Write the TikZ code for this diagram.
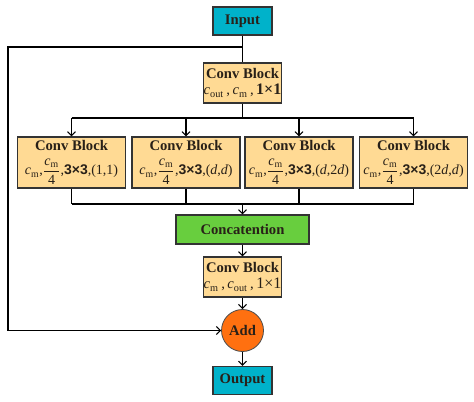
\documentclass[tikz,border=0pt]{standalone}
\usepackage{amsmath}
\usepackage{fontspec}
\setmainfont{Liberation Serif}
\setsansfont{Liberation Sans}
\usetikzlibrary{arrows.meta}
\definecolor{cyanbox}{RGB}{0,178,202}
\definecolor{convfill}{RGB}{255,218,148}
\definecolor{greenbox}{RGB}{104,206,62}
\definecolor{orangec}{RGB}{255,112,16}
\definecolor{txt}{RGB}{40,32,24}
\newcommand{\cmv}{\textit{c}\textsubscript{m}}
\newcommand{\cout}{\textit{c}\textsubscript{out}}
\newcommand{\fr}{$\dfrac{\text{\cmv}}{\text{4}}$}
\newcommand{\kthree}{{\sffamily\bfseries 3\texttimes 3}}
\begin{document}
\begin{tikzpicture}[x=0.75pt,y=-0.75pt,
  every node/.style={text=txt,font=\fontsize{11}{12}\selectfont},
  iobox/.style={draw=black!80,line width=0.8pt,fill=cyanbox,minimum width=44.25pt,minimum height=21pt,inner sep=0pt,font=\fontsize{11}{12}\selectfont\bfseries},
  convbox/.style={draw=black!80,line width=0.8pt,fill=convfill,minimum width=57pt,minimum height=30pt,inner sep=0pt,align=center},
  branchbox/.style={draw=black!80,line width=0.8pt,fill=convfill,minimum width=81pt,minimum height=38.25pt,inner sep=0pt,align=center},
  catbox/.style={draw=black!80,line width=0.8pt,fill=greenbox,minimum width=99.75pt,minimum height=21.75pt,inner sep=0pt,font=\fontsize{11}{12}\selectfont\bfseries},
  addc/.style={circle,draw=black!70,line width=0.6pt,fill=orangec,minimum size=31.5pt,inner sep=0pt,font=\fontsize{11}{12}\selectfont\bfseries},
  conn/.style={draw=black,line width=0.8pt},
  arr/.style={conn,-{Straight Barb[length=3pt,width=6pt]}}
]
\useasboundingbox (0,0) rectangle (474,402);

\node[iobox] (in) at (242.5,21) {Input};
\node[convbox] (c0) at (242.5,83) {\textbf{Conv Block}\\[0pt]\cout\,,\,\cmv\,,\,{\bfseries\fontsize{12}{12}\selectfont 1\texttimes 1}};
\node[branchbox] (b1) at (71.5,162.5) {\textbf{Conv Block}\\[5pt]{\fontsize{10.5}{12}\selectfont\cmv,\fr,\kthree,(1,1)}};
\node[branchbox] (b2) at (186,162.5) {\textbf{Conv Block}\\[5pt]{\fontsize{10.5}{12}\selectfont\cmv,\fr,\kthree,(\textit{d},\textit{d})}};
\node[branchbox] (b3) at (299,162.5) {\textbf{Conv Block}\\[5pt]{\fontsize{10.5}{12}\selectfont\cmv,\fr,\kthree,(\textit{d},2\textit{d})}};
\node[branchbox] (b4) at (413.5,162.5) {\textbf{Conv Block}\\[5pt]{\fontsize{10.5}{12}\selectfont\cmv,\fr,\kthree,(2\textit{d},\textit{d})}};
\node[catbox] (cat) at (242.5,229.5) {Concatention};
\node[convbox] (c5) at (242.5,277) {\textbf{Conv Block}\\[0pt]\cmv\,,\,\cout\,,\,{\fontsize{12}{12}\selectfont 1\texttimes 1}};
\node[addc] (add) at (242.5,330.5) {Add};
\node[iobox] (out) at (242.5,380.5) {Output};

\coordinate (j) at (242.5,47);
\coordinate (l1) at (8,47);
\coordinate (d) at (242.5,118);
\coordinate (col) at (242.5,204);

\draw[conn] (in.south) -- (c0.north);
\draw[conn] (j) -- (l1) -- (l1 |- add.west);
\draw[arr] (l1 |- add.west) -- (add.west);

\draw[conn] (c0.south) -- (d);
\draw[conn] (b1.north |- d) -- (b4.north |- d);
\foreach \b in {b1,b2,b3,b4}{
  \draw[arr] (\b.north |- d) -- (\b.north);
  \draw[conn] (\b.south) -- (\b.south |- col);
}
\draw[conn] (b1.south |- col) -- (b4.south |- col);
\draw[arr] (col) -- (cat.north);
\draw[arr] (cat.south) -- (c5.north);
\draw[arr] (c5.south) -- (add.north);
\draw[arr] (add.south) -- (out.north);
\end{tikzpicture}
\end{document}
